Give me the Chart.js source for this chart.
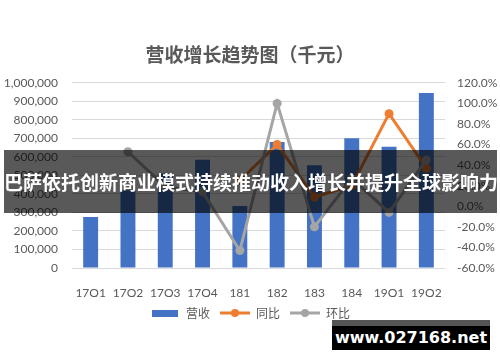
<!DOCTYPE html>
<html>
<head>
<meta charset="utf-8">
<script src="https://cdn.jsdelivr.net/npm/chart.js@4/dist/chart.umd.min.js"></script>
<style>
    html, body { margin: 0; padding: 0; background: #fff; }
    #wrap { position: relative; width: 500px; height: 362px; overflow: hidden; }
    #revenueChart { position: absolute; left: 0; top: 0; }
    .banner {
        position: absolute; left: 4px; width: 493px; top: 150px; height: 63px;
        background: rgba(0, 0, 0, 0.65); color: #fff;
        font: bold 19px "Noto Sans CJK SC", sans-serif;
        line-height: 63px; text-align: center; white-space: nowrap;
    }
    .mark {
        position: absolute; left: 332px; top: 320px; width: 158px; height: 24px;
        border-top: 6px solid #555; background: #000; color: #fff;
        font: bold 16px "DejaVu Sans", sans-serif; line-height: 24px; text-align: center;
    }
</style>
</head>
<body>
<div id="wrap">
    <canvas id="revenueChart" width="500" height="362"></canvas>
    <div class="banner">巴萨依托创新商业模式持续推动收入增长并提升全球影响力</div>
    <div class="mark">www.027168.net</div>
</div>
<script>
// Données
const categories = ['17Q1', '17Q2', '17Q3', '17Q4', '181', '182', '183', '184', '19Q1', '19Q2'];
const revenue = [275000, 420000, 510000, 585000, 335000, 680000, 555000, 700000, 655000, 945000];
const yoy = [null, null, null, null, 25, 60, 9, 20, 90, 37];
const qoq = [null, 53, 19, 14, -43, 100, -20, 27, -6, 45];

const BLUE = '#4472c4';
const ORANGE = '#ed7d31';
const GRAY = '#a5a5a5';
const TEXT = '#595959';

// Petites icônes pour la légende
function barIcon(color) {
    const c = document.createElement('canvas');
    c.width = 30; c.height = 10;
    const g = c.getContext('2d');
    g.fillStyle = color;
    g.fillRect(2, 2, 26, 7);
    return c;
}

function lineIcon(color) {
    const c = document.createElement('canvas');
    c.width = 32; c.height = 10;
    const g = c.getContext('2d');
    g.strokeStyle = color;
    g.lineWidth = 3;
    g.beginPath();
    g.moveTo(1, 5); g.lineTo(31, 5);
    g.stroke();
    g.fillStyle = color;
    g.beginPath();
    g.arc(16, 5, 4, 0, Math.PI * 2);
    g.fill();
    return c;
}

const legendItems = [
    { text: '营收', icon: barIcon(BLUE), idx: 0 },
    { text: '同比', icon: lineIcon(ORANGE), idx: 1 },
    { text: '环比', icon: lineIcon(GRAY), idx: 2 }
];

const ctx = document.getElementById('revenueChart');
new Chart(ctx, {
    type: 'bar',
    data: {
        labels: categories,
        datasets: [
            {
                label: '营收',
                data: revenue,
                backgroundColor: BLUE,
                yAxisID: 'y',
                barPercentage: 0.4,
                categoryPercentage: 1,
                order: 3
            },
            {
                label: '同比',
                type: 'line',
                data: yoy,
                borderColor: ORANGE,
                backgroundColor: ORANGE,
                borderWidth: 3,
                pointRadius: 4.5,
                pointBorderWidth: 0,
                yAxisID: 'y1',
                order: 2
            },
            {
                label: '环比',
                type: 'line',
                data: qoq,
                borderColor: GRAY,
                backgroundColor: GRAY,
                borderWidth: 3,
                pointRadius: 4.5,
                pointBorderWidth: 0,
                yAxisID: 'y1',
                order: 1
            }
        ]
    },
    options: {
        responsive: false,
        animation: false,
        layout: { padding: { left: 0, right: 0, top: 0, bottom: 33 } },
        plugins: {
            title: {
                display: true,
                text: '营收增长趋势图（千元）',
                color: TEXT,
                font: { family: '"Noto Sans CJK SC"', size: 19, weight: 'bold' },
                padding: { top: 43, bottom: 17 }
            },
            legend: {
                position: 'bottom',
                labels: {
                    usePointStyle: true,
                    pointStyleWidth: 30,
                    padding: 10,
                    color: TEXT,
                    font: { family: '"Noto Sans CJK SC"', size: 12 },
                    generateLabels: () => legendItems.map(it => ({
                        text: it.text,
                        pointStyle: it.icon,
                        fillStyle: 'transparent',
                        strokeStyle: 'transparent',
                        lineWidth: 0,
                        hidden: false,
                        datasetIndex: it.idx,
                        fontColor: TEXT
                    }))
                }
            },
            tooltip: { enabled: false }
        },
        scales: {
            x: {
                grid: { display: false },
                border: { display: false },
                ticks: {
                    color: TEXT,
                    padding: 10,
                    font: { family: 'Lato', size: 12 }
                },
                afterFit: scale => { scale.height = 29; }
            },
            y: {
                position: 'left',
                min: 0,
                max: 1000000,
                ticks: {
                    stepSize: 100000,
                    color: TEXT,
                    padding: 14,
                    font: { family: 'Lato', size: 12 },
                    callback: v => v.toLocaleString('en-US')
                },
                grid: { color: '#d9d9d9', drawTicks: false },
                border: { display: false },
                afterFit: scale => { scale.width = 72; }
            },
            y1: {
                position: 'right',
                min: -60,
                max: 120,
                ticks: {
                    stepSize: 20,
                    color: TEXT,
                    padding: 12,
                    font: { family: 'Lato', size: 12 },
                    callback: v => v.toFixed(1) + '%'
                },
                grid: { display: false, drawTicks: false },
                border: { display: false },
                afterFit: scale => { scale.width = 55; }
            }
        }
    }
});
</script>
</body>
</html>
